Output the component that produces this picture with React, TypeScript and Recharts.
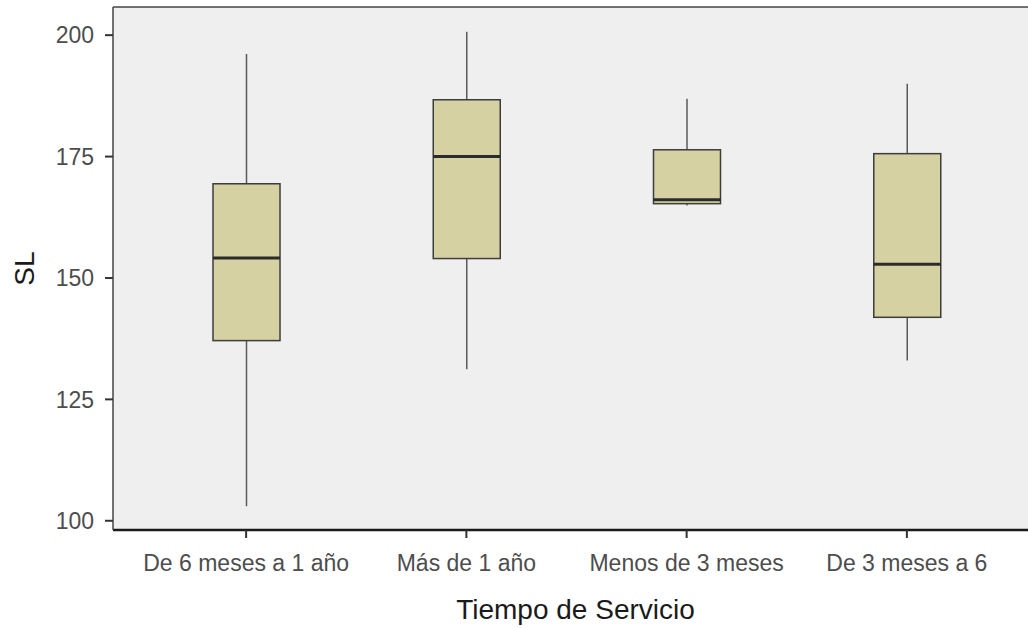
import React from 'react';
import {
  ComposedChart,
  Bar,
  XAxis,
  YAxis,
  CartesianGrid,
  ReferenceLine
} from 'recharts';

// groups on the x axis
const categories = ['De 6 meses a 1 año', 'Más de 1 año', 'Menos de 3 meses', 'De 3 meses a 6'];

// five-number summaries
const mins = [103.0, 131.2, 164.9, 133.0];
const q1s = [137.1, 154.0, 165.3, 141.9];
const medians = [154.1, 175.0, 166.1, 152.8];
const q3s = [169.4, 186.7, 176.4, 175.6];
const maxs = [196.1, 200.7, 186.9, 190.0];

const yTicks = [100, 125, 150, 175, 200];
const yDomain = [98.1, 205.8];

const data = categories.map((name, i) => ({
  name,
  range: [mins[i], maxs[i]],
  min: mins[i],
  q1: q1s[i],
  median: medians[i],
  q3: q3s[i],
  max: maxs[i]
}));

const FONT = '"Liberation Sans", Arial, sans-serif';

// draws one box + whiskers; the bar spans min..max so we map values inside it
const BoxShape = (props: any) => {
  const { x, y, width, height, payload } = props;
  const { min, q1, median, q3, max } = payload;
  const toY = (v: number) => y + ((max - v) / (max - min)) * height;
  const cx = x + width / 2;
  return (
    <g>
      <line x1={cx} x2={cx} y1={toY(max)} y2={toY(q3)} stroke="#5a5a5a" strokeWidth={1.5} />
      <line x1={cx} x2={cx} y1={toY(q1)} y2={toY(min)} stroke="#5a5a5a" strokeWidth={1.5} />
      <rect
        x={x}
        y={toY(q3)}
        width={width}
        height={toY(q1) - toY(q3)}
        fill="#D5D1A2"
        stroke="#3d3d3d"
        strokeWidth={1.5}
      />
      <line x1={x} x2={x + width} y1={toY(median)} y2={toY(median)} stroke="#2b2b2b" strokeWidth={3} />
    </g>
  );
};

export default function App() {
  return (
    <div style={{ position: 'absolute', left: 0, top: 0, width: 1028, height: 629, background: '#fff', overflow: 'hidden' }}>
      <ComposedChart
        width={1028}
        height={629}
        data={data}
        margin={{ top: 7, right: 0, bottom: 0, left: 0 }}
        style={{ fontFamily: FONT }}
      >
        <CartesianGrid fill="#EFEFEF" horizontal={false} vertical={false} stroke="none" />
        <XAxis
          dataKey="name"
          type="category"
          height={99}
          padding={{ left: 23, right: 11 }}
          axisLine={{ stroke: '#1a1a1a', strokeWidth: 2.5 }}
          tickLine={{ stroke: '#333', strokeWidth: 2 }}
          tickSize={8}
          tickMargin={17}
          tick={{ fill: '#4d4d4d', fontSize: 23, fontFamily: FONT }}
          interval={0}
          label={{
            value: 'Tiempo de Servicio',
            position: 'insideBottom',
            offset: 10,
            dx: 5,
            fill: '#1a1a1a',
            fontSize: 28,
            fontFamily: FONT
          }}
        />
        <YAxis
          type="number"
          width={113}
          domain={yDomain}
          ticks={yTicks}
          allowDataOverflow
          axisLine={{ stroke: '#444', strokeWidth: 1.5 }}
          tickLine={{ stroke: '#333', strokeWidth: 2 }}
          tickSize={8}
          tickMargin={11}
          tick={{ fill: '#4d4d4d', fontSize: 23, fontFamily: FONT }}
          label={{
            value: 'SL',
            angle: -90,
            position: 'center',
            dx: -32,
            fill: '#1a1a1a',
            fontSize: 28,
            fontFamily: FONT
          }}
        />
        <ReferenceLine y={yDomain[1]} stroke="#444" strokeWidth={1.5} />
        <Bar dataKey="range" barSize={67} shape={<BoxShape />} isAnimationActive={false} />
      </ComposedChart>
    </div>
  );
}
